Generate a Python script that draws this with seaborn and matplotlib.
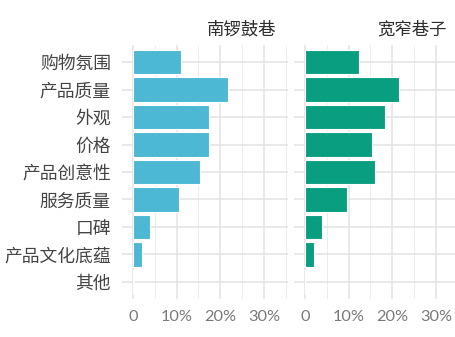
import matplotlib
matplotlib.use("Agg")
import matplotlib.pyplot as plt
import seaborn as sns
import pandas as pd

categories = ["购物氛围", "产品质量", "外观", "价格", "产品创意性", "服务质量", "口碑", "产品文化底蕴", "其他"]
nanluo = [11.0, 21.7, 17.4, 17.4, 15.4, 10.5, 3.9, 2.1, 0.2]
kuanzhai = [12.4, 21.6, 18.4, 15.3, 16.1, 9.7, 4.0, 2.1, 0.0]
panel_titles = ["南锣鼓巷", "宽窄巷子"]
panel_colors = ["#4DB8D3", "#0A9E80"]
x_ticks = [0, 10, 20, 30]
x_ticklabels = ["0", "10%", "20%", "30%"]

sns.set_theme(style="white")
plt.rcParams["font.family"] = ["Noto Sans CJK SC", "DejaVu Sans"]

fig = plt.figure(figsize=(4.56, 3.37), dpi=100)
W, H = 456, 337
panels = [(122, nanluo, 276), (294, kuanzhai, 447)]
pw = 166
top, bottom = 45, 299

for i, (left, vals, right_px) in enumerate(panels):
    ax = fig.add_axes([left / W, 1 - bottom / H, pw / W, (bottom - top) / H])
    df = pd.DataFrame({"cat": categories, "val": vals})
    ax.set_axisbelow(True)
    sns.barplot(data=df, x="val", y="cat", orient="h", color=panel_colors[i],
                width=0.9, edgecolor="white", linewidth=0.8, saturation=1, ax=ax, zorder=3)
    ax.set_xlim(-2.5, 35.5)
    ax.set_ylim(len(categories) - 1 + 0.62, -0.62)
    ax.set_xticks(x_ticks)
    ax.set_xticks([5, 15, 25, 35], minor=True)
    ax.set_xticklabels(x_ticklabels, fontfamily=["Lato", "DejaVu Sans"], fontsize=11.8, color="#7A7A7A")
    ax.grid(True, which="major", axis="both", color="#E3E3E3", linewidth=1.1, zorder=0)
    ax.grid(True, which="minor", axis="x", color="#EDEDED", linewidth=0.7, zorder=0)
    ax.tick_params(axis="x", which="both", length=0, pad=8)
    ax.tick_params(axis="y", which="both", length=0, pad=8)
    ax.set_xlabel("")
    ax.set_ylabel("")
    for s in ax.spines.values():
        s.set_visible(False)
    if i == 0:
        ax.set_yticks(range(len(categories)))
        ax.set_yticklabels(categories, fontsize=12.8, color="#444444", fontweight="medium")
    else:
        ax.set_yticklabels([])
    fig.text(right_px / W, 1 - 30 / H, panel_titles[i], ha="right", va="center",
             fontsize=12.5, color="#2E2E2E", fontweight="medium")

fig.savefig("out.png", dpi=100)
